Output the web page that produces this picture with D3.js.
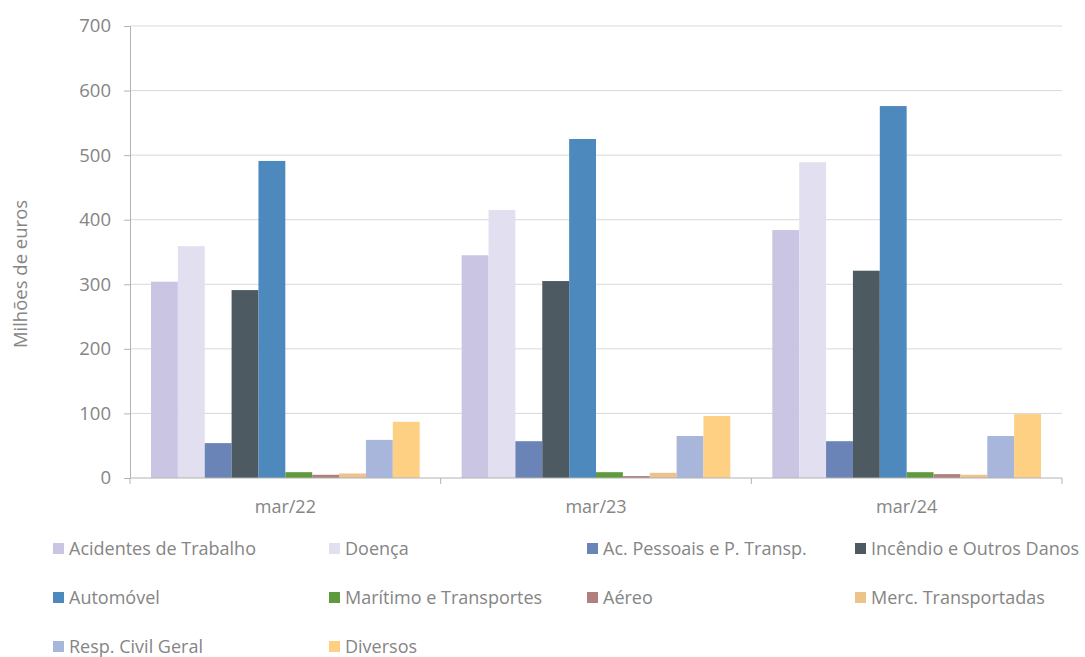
<!DOCTYPE html>
<html>
<head>
<meta charset="utf-8">
<script src="https://cdn.jsdelivr.net/npm/d3@7"></script>
<style>
  body { margin: 0; background: #fff; }
  text { font-family: "Open Sans", "Noto Sans", sans-serif; fill: #858585; }
</style>
</head>
<body>
<div id="chart"></div>
<script>
// data
const periods = ["mar/22", "mar/23", "mar/24"];
const series = [
  "Acidentes de Trabalho", "Doença", "Ac. Pessoais e P. Transp.", "Incêndio e Outros Danos",
  "Automóvel", "Marítimo e Transportes", "Aéreo", "Merc. Transportadas",
  "Resp. Civil Geral", "Diversos"
];
const colors = [
  "#c9c5e3", "#e2e0f0", "#6a84b8", "#4d5a61", "#4e89bd",
  "#5f9a3c", "#b07f7e", "#eec28b", "#a7b6da", "#fdd083"
];
const values = [
  [304, 359, 54, 291, 491, 9, 5, 7, 59, 87],   // mar/22
  [345, 415, 57, 305, 525, 9, 3, 8, 65, 96],   // mar/23
  [384, 489, 57, 321, 576, 9, 6, 5, 65, 99]    // mar/24
];
const yTicks = [0, 100, 200, 300, 400, 500, 600, 700];

const width = 1085, height = 657;
const margin = { top: 26, left: 130, right: 23, bottom: 179 };
const innerW = width - margin.left - margin.right;
const innerH = height - margin.top - margin.bottom;

const svg = d3.select("#chart").append("svg")
  .attr("width", width).attr("height", height);

const g = svg.append("g").attr("transform", `translate(${margin.left},${margin.top})`);

const x0 = d3.scaleBand().domain(periods).range([0, innerW]).padding(0);
const x1 = d3.scaleBand().domain(series).range([21, x0.bandwidth() - 21]).padding(0);
const y = d3.scaleLinear().domain([0, 700]).range([innerH, 0]);

// gridlines
g.append("g")
  .selectAll("line")
  .data(yTicks.slice(1))
  .join("line")
  .attr("x1", 0).attr("x2", innerW)
  .attr("y1", d => y(d)).attr("y2", d => y(d))
  .attr("stroke", "#d9d9d9").attr("stroke-width", 1);

// y axis
const yAxis = g.append("g")
  .call(d3.axisLeft(y).tickValues(yTicks).tickSize(6).tickPadding(13));
yAxis.select(".domain").attr("stroke", "#b3b3b3");
yAxis.selectAll(".tick line").attr("stroke", "#b3b3b3");
yAxis.selectAll("text").style("font-size", "18.5px").attr("fill", "#858585");

// bars
const groups = g.append("g")
  .selectAll("g")
  .data(periods)
  .join("g")
  .attr("transform", d => `translate(${x0(d)},0)`);

groups.selectAll("rect")
  .data((d, i) => values[i].map((v, j) => ({ key: series[j], v, color: colors[j] })))
  .join("rect")
  .attr("x", d => x1(d.key))
  .attr("width", x1.bandwidth())
  .attr("y", d => y(d.v))
  .attr("height", d => y(0) - y(d.v))
  .attr("fill", d => d.color);

// x axis baseline with boundary ticks
const xb = g.append("g").attr("transform", `translate(0,${innerH})`);
xb.append("line").attr("x1", 0).attr("x2", innerW).attr("stroke", "#b3b3b3");
xb.selectAll(".bt")
  .data(periods.map(p => x0(p)).concat([innerW]))
  .join("line")
  .attr("class", "bt")
  .attr("x1", d => d).attr("x2", d => d)
  .attr("y1", 0).attr("y2", 6)
  .attr("stroke", "#b3b3b3");
xb.selectAll("text")
  .data(periods)
  .join("text")
  .attr("x", d => x0(d) + x0.bandwidth() / 2)
  .attr("y", 35)
  .attr("text-anchor", "middle")
  .style("font-size", "18px")
  .text(d => d);

// y title
svg.append("text")
  .attr("transform", `translate(27,${margin.top + innerH / 2 + 22}) rotate(-90)`)
  .attr("text-anchor", "middle")
  .style("font-size", "18.5px")
  .text("Milhões de euros");

// legend
const legCols = [53, 329, 587, 855];
const legRows = [549, 598, 647];
const legend = svg.append("g")
  .selectAll("g")
  .data(series)
  .join("g")
  .attr("transform", (d, i) => `translate(${legCols[i % 4]},${legRows[Math.floor(i / 4)]})`);
legend.append("rect")
  .attr("x", 0).attr("y", -6).attr("width", 11).attr("height", 11)
  .attr("fill", (d, i) => colors[i]);
legend.append("text")
  .attr("x", 16).attr("y", 6)
  .style("font-size", "18px")
  .text(d => d);
</script>
</body>
</html>
